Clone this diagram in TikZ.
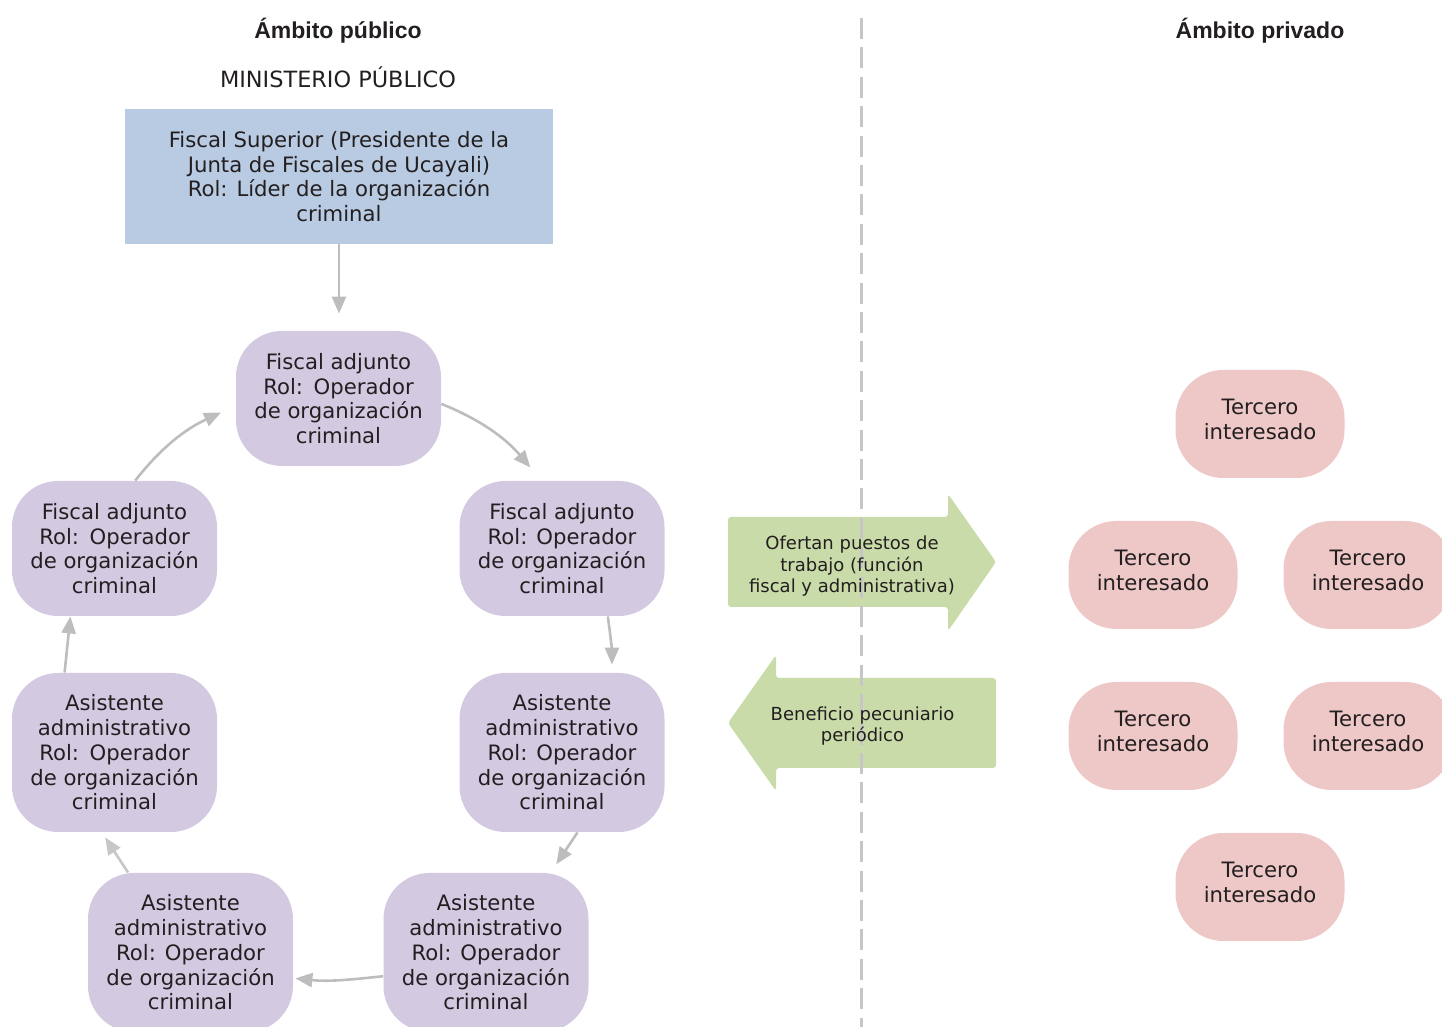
\documentclass[tikz,border=0pt]{standalone}
\usepackage{fontspec}
\setmainfont{DejaVu Sans}
\newfontfamily\headfont{Liberation Sans}
\usetikzlibrary{arrows.meta}

\definecolor{ink}{HTML}{231F20}
\definecolor{boxblue}{HTML}{B9CBE2}
\definecolor{rolepurple}{HTML}{D3CAE1}
\definecolor{thirdpink}{HTML}{EEC8C7}
\definecolor{flowgreen}{HTML}{C9DBA9}
\definecolor{linkgray}{HTML}{BDBDBD}
\definecolor{splitgray}{HTML}{C6C6C6}

\newcommand{\rolgap}{Rol:\hspace{0.5em}Operador}

\begin{document}
\begin{tikzpicture}[x=0.5pt,y=0.5pt,
  txt/.style={text=ink, align=center, font=\fontsize{10.6}{12.35}\selectfont},
  role/.style={txt, fill=rolepurple, rounded corners=23pt, minimum width=102.5pt,
               minimum height=67.5pt, inner sep=0pt},
  roletall/.style={role, minimum height=79.5pt},
  third/.style={txt, fill=thirdpink, rounded corners=24pt, minimum width=84.5pt,
                minimum height=54pt, inner sep=0pt, text depth=4.5pt},
  link/.style={draw=linkgray, line width=1.3pt, -{Triangle[length=8.5pt,width=7pt]}},
  flow/.style={fill=flowgreen, rounded corners=1.5pt},
  flowtxt/.style={text=ink, align=center, font=\fontsize{9}{10.75}\selectfont},
  head/.style={font=\headfont\bfseries\fontsize{11.5}{13.8}\selectfont, text=ink, anchor=base},
]
\useasboundingbox (0,0) rectangle (1442,1027);
\clip (0,0) rectangle (1442,1027);

% headings
\node[head] (hpub) at (338,988) {Ámbito público};
\node[head] (hpriv) at (1260,988) {Ámbito privado};
\node[txt, anchor=base, font=\fontsize{11.2}{13}\selectfont] (mp) at (338,939) {MINISTERIO PÚBLICO};

% leader
\node[txt, fill=boxblue, minimum width=214pt, minimum height=67.5pt, inner sep=0pt] (F) at (339,850.5)
  {Fiscal Superior (Presidente de la\\Junta de Fiscales de Ucayali)\\Rol: Líder de la organización\\criminal};

% ring of operators
\node[role] (P0) at (338.5,628.5) {Fiscal adjunto\\\rolgap\\de organización\\criminal};
\node[role] (P1) at (562,478.5) {Fiscal adjunto\\Rol: Operador\\de organización\\criminal};
\node[role] (P2) at (114.5,478.5) {Fiscal adjunto\\\rolgap\\de organización\\criminal};
\node[roletall] (P3) at (562,274.5) {Asistente\\administrativo\\Rol: Operador\\de organización\\criminal};
\node[roletall] (P4) at (114.5,274.5) {Asistente\\administrativo\\\rolgap\\de organización\\criminal};
\node[roletall] (P5) at (486,74.5) {Asistente\\administrativo\\Rol: Operador\\de organización\\criminal};
\node[roletall] (P6) at (190.5,74.5) {Asistente\\administrativo\\Rol: Operador\\de organización\\criminal};

% connectors
\draw[link, shorten >=8.5pt] (F.south) -- (F.south |- P0.north);
\draw[link, shorten >=8.5pt] (P0.-3) to[out=-22, in=130] (P1.107);
\draw[link, shorten >=4pt] (P1.-56) to[out=-82, in=90] (P3.58);
\draw[link, shorten >=5pt] (P3.-79) -- (P5.51);
\draw[link, shorten >=1pt] (P5.193) to[out=186, in=-6] (P6.-14);
\draw[link, draw=linkgray!85, shorten >=3pt] (P6.128) -- (P4.-99);
\draw[link] (P4.122) -- (P2.-123);
\draw[link, shorten >=8pt] (P2.73) to[out=52, in=205] (P0.184);

% exchange arrows
\fill[flow] (948,533) -- (996,465) -- (948,396) -- (948,420) -- (728,420)
  -- (728,510) -- (948,510) -- cycle;
\fill[flow] (776,372) -- (728,304) -- (776,236) -- (776,259) -- (996,259)
  -- (996,349) -- (776,349) -- cycle;

% divider between both spheres
\draw[splitgray, line width=1.5pt, dash pattern=on 10.5pt off 4.2pt] (861,1009) -- (861,0);

\node[flowtxt] (offer) at (852,460.5) {Ofertan puestos de\\trabajo (función\\fiscal y administrativa)};
\node[flowtxt] (gain) at (862.5,301) {Beneficio pecuniario\\periódico};

% interested third parties
\node[third] (T1) at (1260,603) {Tercero\\interesado};
\node[third] (T2) at (1153,452) {Tercero\\interesado};
\node[third] (T3) at (1368,452) {Tercero\\interesado};
\node[third] (T4) at (1153,291) {Tercero\\interesado};
\node[third] (T5) at (1368,291) {Tercero\\interesado};
\node[third] (T6) at (1260,140) {Tercero\\interesado};
\end{tikzpicture}
\end{document}
